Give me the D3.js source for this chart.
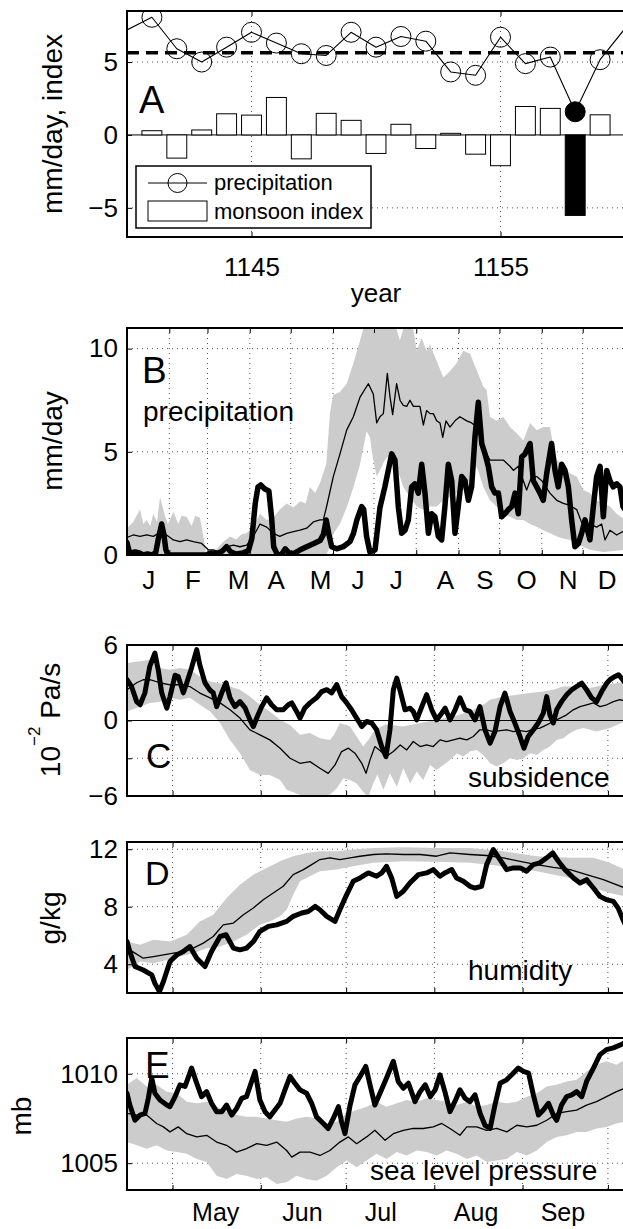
<!DOCTYPE html>
<html><head><meta charset="utf-8">
<script src="https://cdn.jsdelivr.net/npm/d3@7/dist/d3.min.js"></script>
<style>body{margin:0;background:#fff;overflow:hidden} svg text{font-family:"Liberation Sans",Arial,Helvetica,sans-serif;fill:#000}</style>
</head><body>
<svg id="c" width="623" height="1229"></svg>
<script>
// ---------------- DATA ----------------
// Panel A
const precipYears = d3.range(1140, 1161);
const precip = [7.2, 8.07, 5.91, 5.0, 6.02, 7.04, 6.3, 5.57, 5.45, 7.04, 6.02, 6.75, 6.43, 4.32, 4.09, 6.7, 4.89, 5.34, 1.59, 5.16, 7.3];
const monsoonYears = d3.range(1141, 1160);
const monsoonIndex = [0.29, -1.59, 0.34, 1.45, 1.36, 2.57, -1.64, 1.48, 1.0, -1.27, 0.73, -0.93, 0.11, -1.32, -2.11, 1.95, 1.82, -5.52, 1.38];
const highlightYear = 1158;
const precipMean = 5.64;
const yearTicks = [1145, 1155];

// Panel B (day of year, mm/day)
const monthStartsB = [31, 59, 90, 120, 151, 181, 212, 243, 273, 304, 334];
const monthLetterDays = [15.5, 48, 81.5, 109, 141.5, 169, 197, 233, 262, 292.5, 323, 351.5];
const monthLetters = ["J","F","M","A","M","J","J","A","S","O","N","D"];
const bUpper = [[0,1.3],[4.6,1.6],[9.5,2.2],[12,1.5],[14.4,1.7],[17,1.4],[19.3,2.0],[22,1.6],[24.2,2.8],[27.8,1.9],[30,1.5],[34,2.1],[37.6,1.5],[40,1.9],[43.7,1.85],[47.4,1.4],[50,1.9],[53.5,1.8],[56,0.9],[58,0.1],[62,0.05],[66,0.3],[70,0.6],[75.5,0.9],[80,0.75],[84,1.0],[87.7,1.05],[92.6,1.4],[97.5,2.0],[102.4,1.7],[107.2,1.8],[112,2.2],[117,2.5],[122,2.3],[127,2.6],[131,2.5],[134,3.3],[138,3.0],[141.5,3.5],[146,4.4],[148.8,6.9],[151,7.75],[156,7.9],[161,8.3],[166,9.3],[170.8,10.4],[175.6,11.5],[180.5,10.9],[184,11.5],[195,11.5],[200,10.4],[205,11.5],[209.9,10.9],[212.3,9.9],[216,10.5],[219.6,9.9],[222,10.2],[227,9.4],[231.8,8.6],[236.7,8.9],[241.6,9.3],[246.5,9.9],[251.4,9.75],[256.3,8.95],[261.2,8.15],[263.6,8.0],[266,6.7],[270.9,6.5],[275.8,6.7],[280.7,6.2],[285.6,5.9],[290.5,5.55],[295.4,6.4],[300.3,6.05],[305.1,6.2],[310,6.2],[312.5,5.25],[315,4.6],[319.8,4.3],[324.7,3.95],[329.6,3.8],[334.5,3.15],[339.3,3.0],[344.2,2.65],[349,2.5],[354,2.35],[358.9,2.0],[365,1.7]];
const bLower = [[0,0],[146,0],[148,0.3],[151,1.0],[156,1.5],[161,2.3],[166,3.3],[170.8,4.4],[175.6,6.0],[178,5.7],[180.5,4.6],[183,3.8],[185.4,4.1],[189,4.6],[192.8,4.9],[197.6,4.3],[202.5,3.3],[207.4,2.8],[212.3,2.35],[217.2,2.2],[222,2.35],[227,2.35],[231.8,2.65],[236.7,2.8],[241.6,3.0],[246.5,3.3],[251.4,3.6],[256.3,4.3],[261.2,3.3],[266,2.65],[270.9,2.35],[275.8,2.0],[280.7,1.85],[285.6,1.7],[290.5,1.7],[295.4,1.5],[300.3,1.37],[305.1,1.2],[310,1.05],[315,0.9],[319.8,0.8],[324.7,0.73],[329.6,0.56],[334.5,0.4],[339.3,0.25],[349,0.15],[365,0.25]];
const bMean = [[0,0.85],[4.6,0.97],[9.5,0.9],[14.4,0.97],[19.3,0.9],[23,1.05],[29,0.97],[34,0.73],[38.8,0.65],[43.7,0.73],[48.6,0.65],[54.7,0.56],[59.6,0.25],[63.3,0.25],[68,0.15],[73,0.4],[78,0.48],[82.8,0.4],[87.7,0.48],[92.6,0.9],[97.5,1.5],[102.4,1.35],[107.2,1.05],[112,0.9],[117,1.05],[122,1.13],[126.8,1.2],[131.7,1.3],[136.6,1.6],[141.5,1.7],[143.9,1.7],[146.3,2.35],[151.2,3.8],[156.1,4.9],[161,6.05],[165.9,6.7],[170.8,7.65],[176.9,8.3],[180.5,7.8],[183,6.4],[185.4,6.7],[187.9,6.85],[190.8,8.8],[192.8,7.65],[194.7,6.8],[197.6,8.3],[200.1,7.5],[202.5,7.25],[205,7.2],[207.4,7.5],[209.9,7.2],[214.7,7.2],[217.2,6.3],[219.6,7.0],[222.1,6.85],[224.5,6.85],[227,6.5],[229.4,6.4],[231.4,5.7],[233.8,6.5],[236.7,6.2],[240.4,6.5],[244,6.7],[249,6.5],[252.6,6.4],[256.3,6.2],[261.2,5.2],[266,4.6],[270.9,4.6],[275.8,4.6],[280.7,4.3],[283.2,4.1],[286.8,4.3],[290.5,3.6],[292.9,3.15],[296.6,3.8],[300.3,3.8],[304,3.6],[310,3.0],[315,2.65],[319.8,2.5],[324.7,2.4],[329.6,2.2],[334.5,1.35],[339.3,1.5],[344.2,1.35],[347.9,1.5],[350.3,0.73],[354,1.2],[358.9,0.97],[365,1.2]];
const bYear = [[0,0.6],[1.5,0.2],[3,0.1],[6,0.15],[9,0.1],[12,0.0],[15,0.05],[18,0.0],[21,0.1],[23,0.8],[25.4,1.5],[27,1.0],[28.5,0.25],[30,0.0],[40,0.0],[50,0.0],[58,0.0],[62,0.1],[66,0.05],[70,0.2],[73,0.4],[76,0.15],[80,0.05],[85,0.1],[89,0.2],[91.5,0.8],[94,2.5],[96,3.3],[98,3.4],[101,3.2],[104,3.1],[106,1.8],[107.5,0.4],[110,0.05],[113,0.0],[116,0.3],[119.5,0.05],[123,0.1],[127,0.25],[131.7,0.4],[136.6,0.55],[141.5,0.7],[144,1.0],[146,1.7],[148,1.0],[150,0.4],[153.7,0.3],[158.5,0.4],[163.4,0.65],[166,1.05],[168.5,1.7],[172,2.35],[173.5,2.2],[175.6,0.9],[178,0.15],[181.8,0.25],[185.4,2.3],[189,3.3],[191.5,4.1],[194,4.9],[196.4,4.6],[198.9,2.3],[201.3,1.05],[203.8,1.2],[206.2,1.7],[208.6,3.3],[211,3.45],[213.5,3.0],[216,4.4],[218.4,3.0],[220.9,1.05],[223.3,2.0],[225.7,1.85],[228.2,0.9],[230.6,0.73],[233,2.35],[235.5,4.4],[238,3.6],[240.4,1.05],[242.8,2.35],[245.3,3.8],[247.7,3.6],[250.2,2.65],[252.6,3.3],[255,5.7],[257.5,7.4],[260,5.4],[262.4,4.9],[264.8,4.3],[267.3,3.3],[269.7,3.0],[272.2,3.0],[274.6,1.85],[277,2.0],[279.5,2.2],[282,2.35],[284.4,3.0],[286.8,2.0],[289.3,4.75],[291.7,4.9],[295.4,5.4],[297.8,3.6],[300.3,3.3],[302.7,3.0],[305.1,2.65],[307.6,3.95],[311.2,5.4],[313.7,4.1],[316.1,3.3],[318.6,4.4],[321,4.1],[323.5,3.3],[325.9,1.7],[328.3,0.4],[330.8,0.55],[333.2,1.05],[335.7,1.7],[339.3,0.73],[341.8,2.35],[344.2,3.8],[346.7,4.3],[349.1,1.85],[351.6,4.1],[354,3.6],[356.4,3.3],[358.9,3.45],[361.3,3.3],[363.5,2.35],[365,2.2]];

// Panels C-E (day of year)
const monthStartsS = [120, 151, 181, 212, 243, 273];
const monthLabelDays = [135, 165.5, 193, 226.5, 257];
const monthLabels = ["May","Jun","Jul","Aug","Sep"];

const cUpper = [[104,4.57],[108.6,4.7],[112,4.83],[115.6,4.17],[119.1,4.04],[122.6,4.17],[126.1,4.04],[129.6,3.5],[133.2,3.1],[136.7,2.97],[140.2,2.7],[143.7,2.44],[147.2,1.9],[150.7,1.25],[154.2,0.72],[157.8,0.05],[161.3,-0.35],[164.8,-1.14],[168.3,-1.0],[171.8,-1.41],[175.4,-1.54],[177.1,-1.0],[178.8,-0.2],[182.4,-0.48],[184.7,-1.27],[187,-2.07],[188.8,-1.54],[191.1,-0.74],[195,-0.3],[201,-0.48],[207,-0.2],[212.8,0.05],[218.7,0.32],[224.5,0.72],[229.2,1.25],[231.6,1.65],[236.2,1.9],[241,2.05],[245.6,2.18],[250.3,2.3],[253.8,2.44],[257.3,2.7],[262,2.7],[266.7,2.58],[271.4,2.84],[276.1,2.97],[279,3.1]];
const cLower = [[104,0.72],[108.6,1.1],[112,1.4],[115.6,1.5],[119.1,1.8],[122.6,1.65],[126.1,1.8],[129.6,1.25],[133.2,0.72],[136.7,-0.2],[140.2,-1.54],[143.7,-2.6],[147.2,-3.93],[150.7,-4.33],[154.2,-4.33],[157.8,-4.73],[160.1,-5.5],[164.8,-5.9],[169.5,-6.2],[174.2,-6.1],[177.7,-5.4],[180,-4.6],[182.4,-4.73],[184.7,-5.0],[187,-5.66],[188.8,-6.1],[190.5,-5.0],[192,-4.3],[194.1,-5.5],[196.4,-4.2],[198.8,-5.26],[201.1,-3.8],[203.5,-5.0],[205.8,-4.06],[208.1,-4.73],[210.5,-3.53],[212.8,-3.93],[215.2,-3.53],[217.5,-3.13],[219.9,-2.6],[222.2,-2.87],[224.5,-2.47],[226.9,-2.34],[229.2,-2.74],[231.6,-3.4],[233.9,-3.66],[236.2,-3.4],[238.6,-3.0],[241,-3.13],[243.3,-3.0],[245.6,-2.6],[248,-2.74],[250.3,-2.34],[252.6,-2.07],[255,-1.54],[257.3,-1.41],[259.7,-1.0],[262,-0.74],[264.4,-0.6],[266.7,-0.74],[269,-0.88],[271.4,-0.74],[273.7,-0.6],[276.1,-0.35],[279,-0.08]];
const cMean = [[104,2.44],[107.4,3.0],[109.7,3.24],[112,3.24],[115.6,3.0],[119.1,2.84],[122.6,2.84],[126.1,2.7],[129.6,2.18],[133.2,1.8],[136.7,1.4],[140.2,0.85],[143.7,0.19],[147.2,-0.74],[150.7,-1.14],[154.2,-1.54],[157.8,-2.2],[161.3,-3.0],[164.8,-3.4],[168.3,-3.27],[171.8,-3.8],[174.7,-4.2],[177.1,-3.53],[179.4,-2.47],[181.8,-2.2],[184.1,-2.6],[186.5,-3.4],[188,-4.2],[189.4,-3.13],[191.1,-2.07],[193,-2.4],[195,-2.87],[197.6,-2.47],[200,-1.94],[202.3,-2.34],[204.6,-1.67],[207,-2.07],[209.3,-1.94],[211.6,-2.07],[214,-1.54],[216.3,-1.67],[218.7,-1.54],[221,-1.41],[223.4,-1.54],[225.7,-1.27],[228,-0.74],[230.4,-0.74],[232.7,-0.88],[235.1,-0.8],[237.4,-0.74],[239.8,-0.88],[242.1,-0.8],[244.4,-0.88],[246.8,-0.69],[249.1,-0.6],[251.5,-0.35],[253.8,-0.08],[256.2,0.19],[258.5,0.45],[260.8,0.85],[263.2,1.1],[265.5,1.25],[267.9,1.4],[270.2,1.1],[272.6,1.25],[274.9,1.5],[277.2,1.65],[279,1.57]];
const cYear = [[104,3.24],[105.6,2.7],[107.4,1.5],[108.6,1.25],[110.3,2.2],[112,4.3],[113.8,5.36],[115,4.0],[116.2,2.2],[118,0.98],[119.1,1.9],[120.9,3.6],[122,3.5],[123.8,2.2],[125,3.0],[126.7,4.2],[128.5,5.63],[129.6,4.4],[131.4,3.0],[133.2,2.4],[134.3,2.2],[135.5,1.1],[137.3,2.2],[138.8,3.0],[140.2,1.8],[141.9,1.1],[143.7,1.5],[145.5,1.0],[147.2,0.05],[148.4,-0.48],[149.8,0.32],[151.3,1.1],[153.1,1.8],[154.8,1.25],[156.6,0.85],[158.9,0.85],[160.7,1.25],[161.9,1.4],[163.6,0.72],[164.8,0.19],[166.5,1.0],[168.3,1.4],[170.6,1.8],[172.4,2.3],[174.2,2.45],[175.9,2.2],[177.7,2.85],[179.4,1.9],[181.2,1.4],[182.9,0.85],[184.7,0.19],[186.5,-0.48],[188.2,-0.08],[190,-0.2],[191.7,-0.74],[193.5,-2.07],[195,-2.87],[196.4,-0.74],[197.6,2.44],[198.8,3.37],[200.2,2.18],[201.7,0.85],[203.5,0.98],[204.6,0.72],[205.8,0.05],[207.6,1.1],[209.3,2.05],[211.1,0.85],[212.8,0.05],[214.6,0.58],[215.8,0.98],[217.5,0.05],[219.3,0.85],[221,1.8],[222.8,0.85],[224.5,0.72],[226.3,0.05],[228,1.1],[229.8,-0.74],[231.6,-1.8],[233.3,-0.88],[235.1,1.1],[236.8,2.18],[238.6,0.72],[240.3,-0.2],[242.1,-1.27],[243.5,-2.2],[245,-1.27],[246.8,-0.74],[248.5,-0.2],[250.3,0.58],[251.5,1.9],[252.6,0.45],[253.8,-0.2],[255,0.85],[256.7,1.5],[258.5,2.05],[260.3,2.44],[262,2.7],[263.8,2.97],[265.5,2.44],[267.3,1.8],[269,1.5],[270.8,2.3],[272.6,2.97],[273.7,3.24],[275.5,3.5],[276.7,3.64],[278.2,3.24],[279,3.0]];

const dUpper = [[104,5.58],[108.6,5.35],[113.3,5.7],[119.1,5.58],[125,6.05],[129.6,6.98],[134.3,7.44],[139,8.6],[143.7,9.53],[148.4,10.23],[153.1,10.7],[157.8,11.16],[162.4,11.51],[167.1,11.74],[171.8,11.86],[177.7,11.86],[183.5,11.98],[190.6,12.09],[201.1,12.14],[212.8,12.09],[224.5,12.09],[236.2,11.86],[248,11.51],[259.7,11.4],[267.9,11.4],[273.7,11.05],[279,10.58]];
const dLower = [[104,3.6],[108.6,4.19],[113.3,4.07],[118,4.3],[122.6,4.53],[127.3,4.77],[132,5.12],[136.7,5.23],[141.4,5.58],[146,6.05],[150.7,6.74],[154.2,6.98],[157.8,7.33],[160.1,7.79],[162.4,8.84],[164.8,9.77],[168.3,10.12],[171.8,10.47],[177.7,10.58],[183.5,10.81],[190.6,11.05],[201.1,11.16],[212.8,11.12],[224.5,11.05],[236.2,10.81],[248,10.47],[259.7,10.0],[267.9,9.3],[273.7,8.95],[279,8.72]];
const dMean = [[104,5.12],[106.8,4.77],[109.7,4.42],[113.3,4.53],[116.8,4.65],[120.3,4.77],[123.8,4.88],[127.3,5.12],[130.8,5.47],[134.3,5.93],[137.8,6.74],[141.4,6.86],[144.9,7.44],[148.4,7.91],[151.9,8.49],[155.4,8.95],[158.9,9.42],[162.4,10.23],[166,10.58],[168.9,10.93],[171.8,11.28],[175.3,11.4],[178.8,11.28],[182.4,11.4],[185.9,11.51],[190.6,11.63],[195.2,11.67],[201.1,11.63],[207,11.63],[212.8,11.51],[217.5,11.74],[224.5,11.63],[230.4,11.56],[236.2,11.4],[242.1,11.16],[248,10.93],[253.8,10.74],[259.7,10.58],[265.5,10.23],[271.4,9.88],[279,9.3]];
const dYear = [[104,5.58],[105,4.88],[106.8,3.84],[109.7,3.6],[112.7,3.26],[113.8,2.67],[115.4,2.1],[116.8,2.8],[119.1,4.19],[121.5,4.65],[123.8,4.88],[126.1,5.23],[128.5,4.42],[131.4,3.84],[133.7,4.88],[136.7,5.93],[138.8,6.05],[141.4,5.12],[143.7,5.0],[146,5.12],[148.4,5.58],[150.7,6.28],[153.7,6.63],[156.6,6.74],[160.1,6.98],[162.4,7.33],[165.4,7.56],[167.7,7.67],[170.1,8.02],[171.8,7.79],[174.2,7.33],[177.1,6.98],[178.8,7.79],[181.2,8.84],[183.5,9.77],[185.9,10.0],[188.8,10.35],[191.7,10.12],[193.5,10.35],[195.2,10.81],[197,10.0],[198.8,8.72],[201.1,9.07],[203.4,9.65],[206.4,10.23],[209.3,10.35],[211.6,10.58],[214,10.12],[215.7,10.35],[218.1,10.58],[219.8,10.0],[222.2,9.77],[224.5,9.42],[226.3,9.3],[228.6,9.42],[230.4,10.93],[232.7,11.98],[235.1,11.28],[237.4,10.58],[239.8,10.7],[242.2,10.7],[244.4,10.47],[246.8,10.93],[249.1,11.05],[251.5,11.4],[253.6,11.74],[255.6,11.16],[257.9,10.58],[260.9,10.0],[263.2,9.65],[265.5,9.88],[267.9,9.3],[270.2,8.72],[272.5,8.49],[274.9,8.37],[276.6,7.9],[278.3,7.1],[279,6.8]];

const eUpper = [[104,1009.38],[107.4,1009.76],[110.9,1009.29],[114.4,1009.38],[118,1009.0],[121.5,1008.91],[125,1008.44],[128.5,1008.35],[132,1008.44],[135.5,1008.16],[139,1007.88],[142.5,1007.69],[146,1007.59],[149.6,1007.59],[153.1,1007.5],[156.6,1007.4],[160.1,1007.31],[163.6,1007.5],[167.1,1007.59],[170.6,1007.5],[174.2,1007.22],[177.7,1007.31],[181.2,1007.78],[184.7,1007.97],[188.2,1008.16],[191.7,1008.44],[195.2,1008.16],[198.8,1008.35],[202.3,1008.53],[205.8,1008.44],[209.3,1008.63],[212.8,1008.53],[216.3,1008.44],[219.8,1008.25],[223.4,1008.44],[226.9,1008.16],[230.4,1008.25],[233.9,1008.44],[237.4,1008.35],[241,1008.44],[244.5,1008.72],[248,1008.91],[251.5,1009.29],[255,1009.38],[258.5,1009.57],[262,1009.66],[265.5,1010.13],[269,1010.5],[272.5,1010.7],[276,1010.5],[279,1010.79]];
const eLower = [[104,1006.18],[107.4,1006.0],[110.9,1005.81],[114.4,1006.0],[118,1005.71],[121.5,1005.62],[125,1005.53],[128.5,1005.24],[132,1005.06],[135.5,1004.3],[139,1004.12],[142.5,1004.4],[146,1004.3],[149.6,1004.12],[153.1,1004.21],[156.6,1003.83],[160.1,1003.93],[163.6,1004.3],[167.1,1004.12],[170.6,1004.02],[174.2,1004.3],[177.7,1004.77],[181.2,1005.15],[184.7,1004.77],[188.2,1005.15],[191.7,1005.53],[195.2,1005.24],[198.8,1005.62],[202.3,1005.43],[205.8,1005.71],[209.3,1005.62],[212.8,1005.43],[216.3,1005.71],[219.8,1005.53],[223.4,1005.24],[226.9,1005.43],[230.4,1005.06],[233.9,1005.15],[237.4,1005.24],[241,1005.62],[244.5,1005.43],[248,1005.71],[251.5,1006.18],[255,1006.47],[258.5,1006.56],[262,1006.75],[265.5,1006.75],[269,1006.94],[272.5,1007.03],[276,1007.22],[279,1007.31]];
const eMean = [[104,1007.78],[107.4,1007.69],[110.9,1007.69],[114.4,1007.22],[116.8,1007.03],[119.1,1006.75],[122,1007.03],[125,1006.65],[128.5,1006.47],[132,1006.56],[135.5,1006.18],[139,1006.0],[142.5,1005.62],[146,1005.81],[149.6,1006.09],[153.1,1006.0],[156.6,1006.18],[160.1,1005.71],[161.9,1005.34],[164.8,1005.62],[168.3,1005.62],[171.8,1005.43],[175.3,1005.71],[178.8,1006.18],[181.8,1006.47],[184.7,1006.09],[188.2,1006.47],[191.1,1006.84],[194.7,1006.28],[197.6,1006.65],[201.1,1006.84],[204.6,1006.94],[208.1,1006.94],[211.6,1007.03],[214.6,1007.22],[217.5,1006.94],[221,1006.56],[223.4,1007.03],[226.9,1007.03],[230.4,1006.84],[233.9,1006.94],[237.5,1006.75],[241,1007.12],[244.5,1007.03],[248,1007.12],[251.5,1007.4],[255,1007.78],[258.5,1007.88],[262,1007.97],[265.5,1008.25],[269,1008.44],[272.5,1008.72],[276,1009.0],[279,1009.19]];
const eYear = [[104,1008.91],[105,1008.25],[106.8,1007.4],[108.6,1007.69],[110.3,1007.78],[111.5,1008.63],[112.7,1009.76],[113.8,1008.91],[115.6,1008.53],[118,1008.25],[119.1,1008.16],[120.9,1008.72],[122.6,1009.38],[124.4,1009.29],[126.7,1010.32],[128.5,1009.47],[130.2,1008.72],[132,1009.0],[133.7,1008.35],[135.5,1007.88],[137.3,1007.88],[139,1008.25],[140.8,1007.69],[142.5,1008.06],[144.3,1008.63],[146,1008.72],[147.8,1009.57],[149,1010.13],[150.7,1008.53],[152.5,1007.88],[154.2,1007.59],[156,1007.97],[157.8,1008.35],[159.5,1009.1],[161.3,1009.85],[163,1009.47],[164.8,1009.1],[167.1,1008.91],[168.9,1008.35],[170.6,1007.59],[173,1007.22],[174.7,1006.94],[176.5,1007.5],[178.3,1008.16],[179.4,1007.31],[180.6,1006.65],[182.4,1008.25],[184.1,1009.38],[185.9,1009.85],[187.9,1010.41],[189.4,1009.38],[191.1,1008.25],[192.9,1008.91],[195.2,1009.76],[197.6,1010.7],[199.3,1009.57],[201.1,1009.19],[202.9,1009.47],[205.2,1008.44],[207,1009.0],[208.8,1009.38],[210.6,1008.72],[212.3,1009.1],[214,1009.94],[215.7,1009.0],[217.5,1007.88],[219.2,1008.44],[221,1009.1],[222.8,1008.63],[224.5,1008.44],[226.3,1008.82],[228.1,1007.78],[229.8,1007.12],[231.6,1006.94],[233.3,1008.25],[235.1,1009.47],[237.4,1009.66],[239.8,1010.04],[241.5,1010.32],[243.3,1010.13],[245.1,1010.04],[246.8,1008.82],[248.6,1007.69],[250.3,1007.97],[252.1,1008.35],[253.8,1007.69],[255,1007.4],[256.7,1008.25],[258.5,1008.72],[260.3,1008.82],[262,1009.0],[263.8,1008.72],[265.5,1009.57],[267.9,1010.32],[270.2,1011.07],[272.5,1011.35],[274.9,1011.45],[278.3,1011.67],[279,1011.75]];

// ---------------- DRAWING ----------------
const svg = d3.select("#c");
const L = 127, R = 625;
const FONT = '"Liberation Sans", Arial, Helvetica, sans-serif';
const GRID = "#555";
const BAND = "#cccccc";

function panel(id, top, bottom, x, y, xGrid, yGrid) {
  svg.append("clipPath").attr("id", id).append("rect")
    .attr("x", L).attr("y", top).attr("width", R - L).attr("height", bottom - top);
  const g = svg.append("g").attr("clip-path", `url(#${id})`);
  g.selectAll(null).data(xGrid).join("line")
    .attr("x1", d => x(d)).attr("x2", d => x(d)).attr("y1", top).attr("y2", bottom)
    .attr("stroke", GRID).attr("stroke-width", 1).attr("stroke-dasharray", "1,4");
  g.selectAll(null).data(yGrid).join("line")
    .attr("x1", L).attr("x2", R).attr("y1", d => y(d)).attr("y2", d => y(d))
    .attr("stroke", GRID).attr("stroke-width", 1).attr("stroke-dasharray", "1,4");
  return g;
}
function box(top, bottom) {
  svg.append("rect").attr("x", L).attr("y", top).attr("width", R - L).attr("height", bottom - top)
    .attr("fill", "none").attr("stroke", "#000").attr("stroke-width", 2);
}
function yAxis(y, ticks, labels) {
  svg.append("g").attr("transform", `translate(${L},0)`)
    .call(d3.axisLeft(y).tickValues(ticks).tickFormat((d, i) => labels[i]).tickSize(-5).tickPadding(9))
    .call(a => a.select(".domain").remove())
    .call(a => a.selectAll("text").attr("font-size", 26).attr("font-family", FONT).attr("fill", "#000"))
    .call(a => a.selectAll("line").attr("stroke-width", 1));
}
function xTicks(x, top, bottom, ticks) {
  svg.append("g").attr("transform", `translate(0,${bottom})`)
    .call(d3.axisBottom(x).tickValues(ticks).tickSize(-5).tickFormat(""))
    .call(a => a.select(".domain").remove());
  svg.append("g").attr("transform", `translate(0,${top})`)
    .call(d3.axisTop(x).tickValues(ticks).tickSize(-5).tickFormat(""))
    .call(a => a.select(".domain").remove());
}
function xLabels(x, bottom, days, labels, pad, size) {
  svg.append("g").attr("transform", `translate(0,${bottom})`)
    .call(d3.axisBottom(x).tickValues(days).tickFormat((d, i) => labels[i]).tickSize(0).tickPadding(pad))
    .call(a => a.select(".domain").remove())
    .call(a => a.selectAll("text").attr("font-size", size || 26).attr("font-family", FONT).attr("fill", "#000"));
}
function bandPath(x, y, upper, lower) {
  const pts = upper.map(d => [x(d[0]), y(d[1])])
    .concat(lower.slice().reverse().map(d => [x(d[0]), y(d[1])]));
  return d3.line()(pts) + "Z";
}
function seriesLine(g, x, y, data, w) {
  g.append("path").attr("d", d3.line().x(d => x(d[0])).y(d => y(d[1]))(data))
    .attr("fill", "none").attr("stroke", "#000").attr("stroke-width", w)
    .attr("stroke-linejoin", "round").attr("stroke-linecap", "round");
}
function txt(xp, yp, s, size, anchor) {
  return svg.append("text").attr("x", xp).attr("y", yp).attr("font-size", size)
    .attr("font-family", FONT).attr("text-anchor", anchor || "start").text(s);
}
function yLabel(xp, yp, s, size) {
  return svg.append("text").attr("transform", `translate(${xp},${yp}) rotate(-90)`)
    .attr("font-size", size).attr("font-family", FONT).attr("text-anchor", "middle").text(s);
}

// ----- Panel A -----
{
  const top = 11, bottom = 237;
  const x = d3.scaleLinear().domain([1140, 1160]).range([L, R]);
  const y = d3.scaleLinear().domain([-7, 8.5]).range([bottom, top]);
  const g = panel("clipA", top, bottom, x, y, yearTicks, [-5, 5]);
  g.append("line").attr("x1", L).attr("x2", R).attr("y1", y(0)).attr("y2", y(0)).attr("stroke", "#000").attr("stroke-width", 1);
  g.selectAll(null).data(monsoonYears.map((yr, i) => [yr, monsoonIndex[i]])).join("rect")
    .attr("x", d => x(d[0] - 0.4)).attr("width", d => x(d[0] + 0.4) - x(d[0] - 0.4))
    .attr("y", d => y(Math.max(0, d[1]))).attr("height", d => Math.abs(y(d[1]) - y(0)))
    .attr("fill", d => d[0] === highlightYear ? "#000" : "#fff").attr("stroke", "#000").attr("stroke-width", 1);
  g.append("line").attr("x1", L).attr("x2", R).attr("y1", y(precipMean)).attr("y2", y(precipMean))
    .attr("stroke", "#000").attr("stroke-width", 3.5).attr("stroke-dasharray", "12,7");
  const pts = precipYears.map((yr, i) => [yr, precip[i]]);
  seriesLine(g, x, y, pts, 1.1);
  g.selectAll(null).data(pts.filter(d => d[0] > 1140 && d[0] < 1160)).join("circle")
    .attr("cx", d => x(d[0])).attr("cy", d => y(d[1])).attr("r", 10)
    .attr("fill", d => d[0] === highlightYear ? "#000" : "none").attr("stroke", "#000").attr("stroke-width", 1);
  box(top, bottom);
  yAxis(y, [-5, 0, 5], ["\u22125", "0", "5"]);
  xTicks(x, top, bottom, yearTicks);
  xLabels(x, bottom, yearTicks, yearTicks.map(String), 21);
  txt(376, 302, "year", 26, "middle");
  yLabel(62, 124, "mm/day, index", 28);
  txt(139, 113, "A", 38);
  // legend
  svg.append("rect").attr("x", 136).attr("y", 166).attr("width", 235).attr("height", 62)
    .attr("fill", "#fff").attr("stroke", "#000").attr("stroke-width", 1.5);
  svg.append("line").attr("x1", 148).attr("x2", 207).attr("y1", 183).attr("y2", 183).attr("stroke", "#000").attr("stroke-width", 1);
  svg.append("circle").attr("cx", 177.5).attr("cy", 183).attr("r", 9.5).attr("fill", "none").attr("stroke", "#000").attr("stroke-width", 1);
  svg.append("rect").attr("x", 148).attr("y", 201).attr("width", 59).attr("height", 20).attr("fill", "#fff").attr("stroke", "#000").attr("stroke-width", 1);
  txt(214, 190, "precipitation", 22);
  txt(214, 219, "monsoon index", 22);
}

// ----- Panel B -----
{
  const top = 328, bottom = 555;
  const x = d3.scaleLinear().domain([0, 365]).range([L, R]);
  const y = d3.scaleLinear().domain([0, 11]).range([bottom, top]);
  const g = panel("clipB", top, bottom, x, y, monthStartsB, [5, 10]);
  g.append("path").attr("d", bandPath(x, y, bUpper, bLower)).attr("fill", BAND);
  seriesLine(g, x, y, bMean, 1.3);
  seriesLine(g, x, y, bYear, 5.5);
  box(top, bottom);
  yAxis(y, [0, 5, 10], ["0", "5", "10"]);
  xTicks(x, top, bottom, monthStartsB);
  xLabels(x, bottom, monthLetterDays, monthLetters, 16);
  yLabel(62, 441, "mm/day", 28);
  txt(142, 383, "B", 37);
  txt(143, 421, "precipitation", 28);
}

// ----- Panels C, D, E share the May-Sep axis -----
const xS = d3.scaleLinear().domain([104, 279]).range([L, R]);
{
  const top = 645, bottom = 796;
  const y = d3.scaleLinear().domain([-6, 6]).range([bottom, top]);
  const g = panel("clipC", top, bottom, xS, y, monthStartsS, [-3, 3]);
  g.append("path").attr("d", bandPath(xS, y, cUpper, cLower)).attr("fill", BAND);
  g.append("line").attr("x1", L).attr("x2", R).attr("y1", y(0)).attr("y2", y(0)).attr("stroke", "#000").attr("stroke-width", 1);
  seriesLine(g, xS, y, cMean, 1.3);
  seriesLine(g, xS, y, cYear, 5);
  box(top, bottom);
  yAxis(y, [-6, -3, 0, 3, 6], ["\u22126", "", "0", "", "6"]);
  xTicks(xS, top, bottom, monthStartsS);
  const t = svg.append("text").attr("transform", "translate(60,720) rotate(-90)")
    .attr("font-family", FONT).attr("text-anchor", "middle").attr("font-size", 28);
  t.append("tspan").text("10");
  t.append("tspan").attr("dy", -20).attr("font-size", 17).text("\u22122");
  t.append("tspan").attr("dy", 20).text(" Pa/s");
  txt(146, 768, "C", 35);
  txt(468, 787, "subsidence", 28);
}
{
  const top = 842, bottom = 993;
  const y = d3.scaleLinear().domain([2, 12.5]).range([bottom, top]);
  const g = panel("clipD", top, bottom, xS, y, monthStartsS, [4, 8, 12]);
  g.append("path").attr("d", bandPath(xS, y, dUpper, dLower)).attr("fill", BAND);
  seriesLine(g, xS, y, dMean, 1.3);
  seriesLine(g, xS, y, dYear, 5);
  box(top, bottom);
  yAxis(y, [4, 8, 12], ["4", "8", "12"]);
  xTicks(xS, top, bottom, monthStartsS);
  yLabel(60, 918, "g/kg", 28);
  txt(145, 885, "D", 34);
  txt(468, 980, "humidity", 28);
}
{
  const top = 1038, bottom = 1190;
  const y = d3.scaleLinear().domain([1003.5, 1012]).range([bottom, top]);
  const g = panel("clipE", top, bottom, xS, y, monthStartsS, [1005, 1010]);
  g.append("path").attr("d", bandPath(xS, y, eUpper, eLower)).attr("fill", BAND);
  seriesLine(g, xS, y, eMean, 1.3);
  seriesLine(g, xS, y, eYear, 5);
  box(top, bottom);
  yAxis(y, [1005, 1010], ["1005", "1010"]);
  xTicks(xS, top, bottom, monthStartsS);
  xLabels(xS, bottom, monthLabelDays, monthLabels, 13, 25);
  yLabel(31, 1116, "mb", 28);
  txt(145, 1078, "E", 37);
  txt(370, 1180, "sea level pressure", 28);
}
</script>
</body></html>
